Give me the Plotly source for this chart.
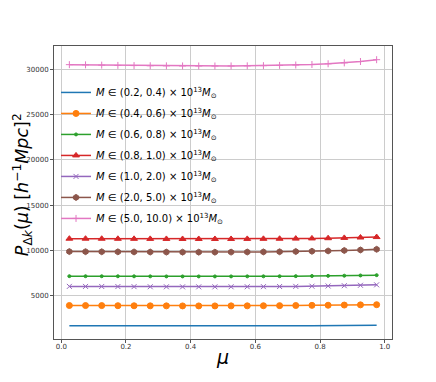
import plotly.graph_objects as go

# mu bin centres
mu = [0.025, 0.075, 0.125, 0.175, 0.225, 0.275, 0.325, 0.375, 0.425, 0.475,
      0.525, 0.575, 0.625, 0.675, 0.725, 0.775, 0.825, 0.875, 0.925, 0.975]

mass_bins = ["(0.2, 0.4)", "(0.4, 0.6)", "(0.6, 0.8)", "(0.8, 1.0)",
             "(1.0, 2.0)", "(2.0, 5.0)", "(5.0, 10.0)"]

p_m1 = [1700, 1695, 1690, 1680, 1670, 1660, 1655, 1650, 1650, 1650,
        1655, 1660, 1665, 1675, 1685, 1695, 1705, 1715, 1725, 1740]
p_m2 = [3930, 3925, 3920, 3910, 3900, 3895, 3890, 3885, 3885, 3885,
        3890, 3895, 3905, 3915, 3930, 3945, 3960, 3980, 4000, 4020]
p_m3 = [7170, 7165, 7160, 7155, 7150, 7145, 7140, 7138, 7138, 7138,
        7140, 7145, 7150, 7160, 7170, 7185, 7200, 7220, 7245, 7280]
p_m4 = [11300, 11300, 11295, 11290, 11285, 11280, 11275, 11270, 11270, 11270,
        11272, 11278, 11285, 11295, 11310, 11330, 11355, 11390, 11430, 11480]
p_m5 = [6040, 6035, 6030, 6020, 6010, 6000, 5995, 5990, 5990, 5990,
        5995, 6000, 6010, 6025, 6040, 6060, 6085, 6115, 6160, 6210]
p_m6 = [9880, 9870, 9860, 9850, 9840, 9830, 9820, 9815, 9815, 9815,
        9820, 9830, 9845, 9860, 9885, 9915, 9950, 10000, 10060, 10130]
p_m7 = [30500, 30480, 30450, 30420, 30400, 30380, 30370, 30360, 30355, 30355,
        30360, 30370, 30390, 30420, 30460, 30520, 30600, 30700, 30850, 31050]

series = [p_m1, p_m2, p_m3, p_m4, p_m5, p_m6, p_m7]
colors = ["#1f77b4", "#ff7f0e", "#2ca02c", "#d62728", "#9467bd", "#8c564b", "#e377c2"]
# (mode, symbol, size)
markers = [("lines", None, 0), ("lines+markers", "circle", 6),
           ("lines+markers", "circle", 3), ("lines+markers", "triangle-up", 6),
           ("lines+markers", "x-thin", 5), ("lines+markers", "hexagon", 6),
           ("lines+markers", "cross-thin", 5)]

fig = go.Figure()
for i, (m, vals, c, (mode, sym, sz)) in enumerate(zip(mass_bins, series, colors, markers)):
    mk = dict(color=c, size=sz, line=dict(color=c, width=1))
    if sym:
        mk["symbol"] = sym
    fig.add_trace(go.Scatter(
        x=mu, y=vals, mode=mode, line=dict(color=c, width=1.5), marker=mk,
        legendgroup="g%d" % i,
        name="<i>M</i> ∈ " + m + " × 10<sup>13</sup><i>M</i><sub>⊙</sub>",
    ))

axis_common = dict(
    showgrid=True, gridcolor="#cccccc", gridwidth=1,
    showline=True, linecolor="#555555", linewidth=1, mirror=True,
    ticks="outside", ticklen=3, tickcolor="#555555",
    tickfont=dict(size=7, color="#333333"), zeroline=False,
    automargin=False,
)

fig.update_layout(
    width=436, height=382,
    paper_bgcolor="white", plot_bgcolor="white",
    margin=dict(l=54, r=44, t=46, b=43),
    font=dict(family="DejaVu Sans", color="black"),
    xaxis=dict(range=[-0.0225, 1.0225], tickvals=[0, 0.2, 0.4, 0.6, 0.8, 1.0],
               tickformat=".1f", ticklabelstandoff=-2,
               title=dict(text="<i>μ</i>", font=dict(size=19), standoff=0),
               **axis_common),
    yaxis=dict(range=[235, 32560], tickvals=[5000, 10000, 15000, 20000, 25000, 30000],
               tickformat="d", **axis_common),
    legend=dict(x=0.006, y=0.891, xanchor="left", yanchor="top",
                bgcolor="rgba(255,255,255,0)", font=dict(size=10),
                tracegroupgap=2),
)

# y-axis title as rotated annotation so it sits where the reference has it
fig.add_annotation(
    text="<i>P</i><sub>Δ<i>k</i></sub>(<i>μ</i>) [<i>h</i><sup>−1</sup><i>Mpc</i>]<sup>2</sup>",
    xref="paper", yref="paper", x=0, y=0.525, xshift=-32,
    xanchor="center", yanchor="middle", textangle=-90,
    showarrow=False, font=dict(size=17.5),
)

fig.write_html("out.html", config={"displayModeBar": False},
               post_script="document.body.style.margin='0';")
